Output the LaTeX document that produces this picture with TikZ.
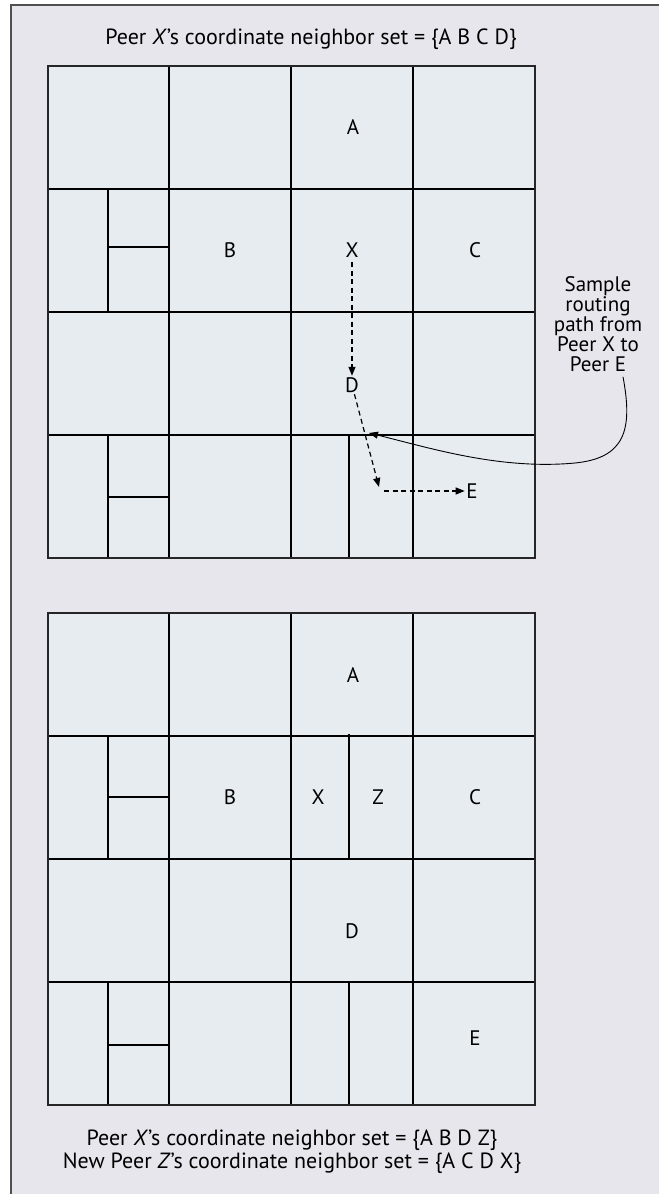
\documentclass[tikz,border=0pt]{standalone}
\usepackage{fontspec}
\setmainfont{PT Sans}
\usetikzlibrary{arrows.meta}
\definecolor{panelbg}{HTML}{E8E6ED}
\definecolor{cellbg}{HTML}{E7ECF1}
\definecolor{framegray}{HTML}{505050}
\begin{document}
\begin{tikzpicture}[x=1pt,y=-1pt,
  gridline/.style={line width=1.3pt, black},
  gridframe/.style={line width=1.6pt, black!85},
  cell/.style={inner sep=1.5pt, font=\fontsize{21}{24}\selectfont},
  caption/.style={inner sep=0pt, font=\fontsize{22}{23}\selectfont, anchor=base},
  route/.style={dashed, dash pattern=on 5pt off 3.5pt, line width=1.2pt, -{Triangle[length=9pt,width=7pt]}},
  callout/.style={line width=0.9pt, -{Triangle[length=9pt,width=7pt]}},
  sidenote/.style={align=center, inner sep=0pt, font=\fontsize{21}{20}\selectfont}
]
\useasboundingbox (0,0) rectangle (659,1194);
\fill[white] (0,0) rectangle (659,1194);
\fill[panelbg] (11,5) rectangle (659,1194);
\draw[framegray, line width=2pt] (11,1194) -- (11,5) -- (659,5);

% ---------- grid 1 ----------
\fill[cellbg] (48,66) rectangle (535,558);
\foreach \yy in {189,312,435} \draw[gridline] (48,\yy) -- (535,\yy);
\foreach \xx in {169,291,413} \draw[gridline] (\xx,66) -- (\xx,558);
\draw[gridline] (108,189) -- (108,312);
\draw[gridline] (108,247) -- (169,247);
\draw[gridline] (108,435) -- (108,558);
\draw[gridline] (108,497) -- (169,497);
\draw[gridline] (349,435) -- (349,558);
\draw[gridframe] (48,66) rectangle (535,558);

% ---------- grid 2 ----------
\begin{scope}[shift={(0,547)}]
\fill[cellbg] (48,66) rectangle (535,558);
\foreach \yy in {189,312,435} \draw[gridline] (48,\yy) -- (535,\yy);
\foreach \xx in {169,291,413} \draw[gridline] (\xx,66) -- (\xx,558);
\draw[gridline] (108,189) -- (108,312);
\draw[gridline] (108,250) -- (169,250);
\draw[gridline] (108,435) -- (108,558);
\draw[gridline] (108,498) -- (169,498);
\draw[gridline] (349,187) -- (349,312);
\draw[gridline] (349,435) -- (349,558);
\draw[gridframe] (48,66) rectangle (535,558);
\end{scope}

% ---------- texts ----------
\node[caption] (title) at (311,44) {Peer \textit{X}’s coordinate neighbor set = \{A B C D\}};
\node[caption] (foot1) at (292,1145) {Peer \textit{X}’s coordinate neighbor set = \{A B D Z\}};
\node[caption] (foot2) at (292,1168) {New Peer \textit{Z}’s coordinate neighbor set = \{A C D X\}};

% grid 1 labels
\node[cell] (A1) at (353,127) {A};
\node[cell] (B1) at (230,250) {B};
\node[cell] (X1) at (352,250) {X};
\node[cell] (C1) at (475,250) {C};
\node[cell] (D1) at (352,385) {D};
\node[cell] (E1) at (472,491) {E};

% grid 2 labels
\node[cell] (A2) at (353,675) {A};
\node[cell] (B2) at (230,797) {B};
\node[cell] (X2) at (318,797) {X};
\node[cell] (Z2) at (378,797) {Z};
\node[cell] (C2) at (475,797) {C};
\node[cell] (D2) at (352,931) {D};
\node[cell] (E2) at (475,1038) {E};

% side note
\node[sidenote] (note) at (598,324) {Sample\\routing\\path from\\Peer X to\\Peer E};

% routing path
\coordinate (turnA) at (379,487);
\coordinate (turnB) at (384,491);
\coordinate (hit) at (369,433);
\draw[route, shorten <=3pt] (X1) -- (D1);
\draw[route] (D1) -- (turnA);
\draw[route] (turnB) -- (E1);
\draw[callout] ([xshift=25pt,yshift=-5pt]note.south) .. controls (633,430) and (625,458) .. (575,463)
   .. controls (500,470) and (430,448) .. (hit);
\end{tikzpicture}
\end{document}
